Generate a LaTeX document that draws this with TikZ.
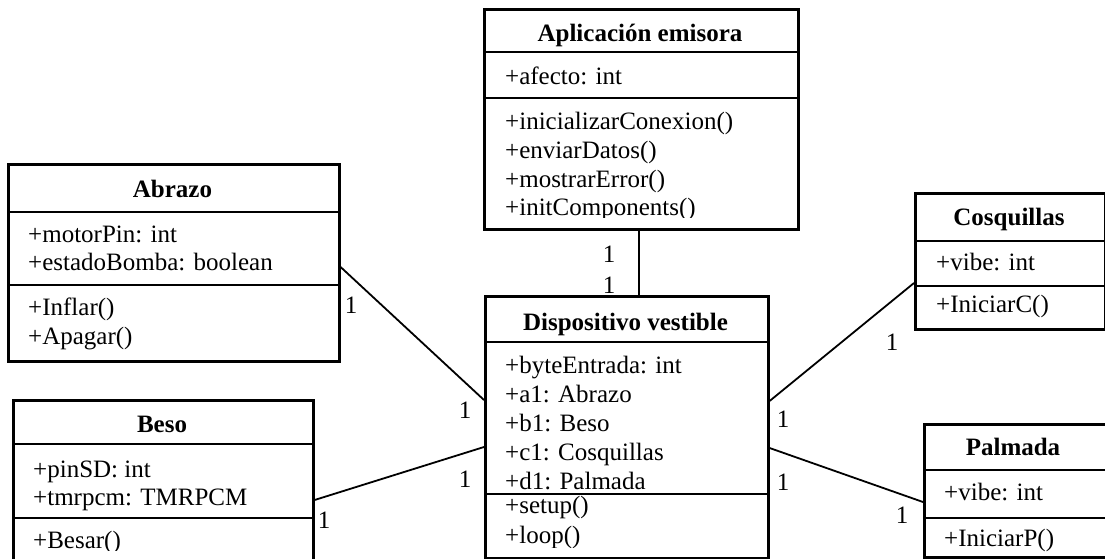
\documentclass[tikz,border=0pt]{standalone}
\usepackage{fontspec}
\setmainfont{Liberation Serif}
\usetikzlibrary{calc}
\tikzset{
  classbox/.style={draw=black, line width=2.6pt, fill=white, anchor=north west, inner sep=0pt},
  divider/.style={draw=black, line width=1.1pt},
  assoc/.style={draw=black, line width=1.8pt},
  ttl/.style={anchor=base, inner sep=0pt, font=\fontsize{25}{29}\selectfont\bfseries},
  mem/.style={anchor=base west, inner sep=0pt, font=\fontsize{25}{29}\selectfont},
  mult/.style={anchor=base, inner sep=0pt, font=\fontsize{25}{29}\selectfont},
}
\begin{document}
\begin{tikzpicture}[x=1pt,y=-1pt]
\useasboundingbox (0,0) rectangle (1105,559);
\clip (0,0) rectangle (1105,559);
\fill[white] (0,0) rectangle (1105,559);

% boxes as named nodes
\node[classbox, minimum width=314, minimum height=220] (app) at (483,8) {};
\node[classbox, minimum width=283, minimum height=262] (disp) at (484,295) {};
\node[classbox, minimum width=331, minimum height=197] (abr) at (7,163) {};
\node[classbox, minimum width=300, minimum height=180] (beso) at (12,399) {};
\node[classbox, minimum width=190, minimum height=136] (cosq) at (914,192) {};
\node[classbox, minimum width=200, minimum height=133] (palm) at (923,423) {};

% connectors
\draw[assoc] ($(app.south west)+(156,0)$) -- ($(disp.north west)+(155,0)$);
\draw[assoc] ($(abr.north east)+(0,104)$) -- ($(disp.north west)+(0,105)$);
\draw[assoc] ($(beso.north east)+(0,101)$) -- ($(disp.north west)+(0,152)$);
\draw[assoc] ($(disp.north east)+(0,106)$) -- ($(cosq.north west)+(0,91)$);
\draw[assoc] ($(disp.north east)+(0,153)$) -- ($(palm.north west)+(0,79)$);

% ---------- Aplicacion emisora ----------
\draw[divider] (app.west |- 0,52) -- (app.east |- 0,52);
\draw[divider] (app.west |- 0,98) -- (app.east |- 0,98);
\node[ttl] (appT) at (640,42) {Aplicación emisora};
\node[mem] (appA1) at (505,85) {+afecto: int};
\begin{scope}
\clip (485,99) rectangle (795,217);
\node[mem] (appM1) at (505,130) {+inicializarConexion()};
\node[mem] (appM2) at (505,158.5) {+enviarDatos()};
\node[mem] (appM3) at (505,187) {+mostrarError()};
\node[mem] (appM4) at (505,215.5) {+initComponents()};
\end{scope}

% ---------- Dispositivo vestible ----------
\draw[divider] (disp.west |- 0,342) -- (disp.east |- 0,342);
\draw[divider] (disp.west |- 0,494) -- (disp.east |- 0,494);
\node[ttl] (dispT) at (625.5,330) {Dispositivo vestible};
\node[mem] (dispA1) at (505,373) {+byteEntrada: int};
\node[mem] (dispA2) at (505,402) {+a1: Abrazo};
\node[mem] (dispA3) at (505,431) {+b1: Beso};
\node[mem] (dispA4) at (505,460) {+c1: Cosquillas};
\node[mem] (dispA5) at (505,489) {+d1: Palmada};
\begin{scope}
\clip (486,495) rectangle (765,547);
\node[mem] (dispM1) at (505,513) {+setup()};
\node[mem] (dispM2) at (505,543) {+loop()};
\end{scope}

% ---------- Abrazo ----------
\draw[divider] (abr.west |- 0,212) -- (abr.east |- 0,212);
\draw[divider] (abr.west |- 0,285) -- (abr.east |- 0,285);
\node[ttl] (abrT) at (172.5,197) {Abrazo};
\node[mem] (abrA1) at (28,242) {+motorPin: int};
\node[mem] (abrA2) at (28,270) {+estadoBomba: boolean};
\node[mem] (abrM1) at (28,315) {+Inflar()};
\node[mem] (abrM2) at (28,344) {+Apagar()};

% ---------- Beso ----------
\draw[divider] (beso.west |- 0,444) -- (beso.east |- 0,444);
\draw[divider] (beso.west |- 0,518) -- (beso.east |- 0,518);
\node[ttl] (besoT) at (162,432) {Beso};
\node[mem] (besoA1) at (33,477) {+pinSD: int};
\node[mem] (besoA2) at (33,505) {+tmrpcm: TMRPCM};
\begin{scope}
\clip (14,519) rectangle (310,550);
\node[mem] (besoM1) at (33,548) {+Besar()};
\end{scope}

% ---------- Cosquillas ----------
\draw[divider] (cosq.west |- 0,241) -- (cosq.east |- 0,241);
\draw[divider] (cosq.west |- 0,286) -- (cosq.east |- 0,286);
\node[ttl] (cosqT) at (1009,225) {Cosquillas};
\node[mem] (cosqA1) at (936,270) {+vibe: int};
\node[mem] (cosqM1) at (936,312) {+IniciarC()};

% ---------- Palmada ----------
\draw[divider] (palm.west |- 0,470) -- (palm.east |- 0,470);
\draw[divider] (palm.west |- 0,518) -- (palm.east |- 0,518);
\node[ttl] (palmT) at (1013,455) {Palmada};
\node[mem] (palmA1) at (944,500) {+vibe: int};
\node[mem] (palmM1) at (944,546) {+IniciarP()};

% ---------- multiplicities ----------
\node[mult] (m1) at (609,262) {1};
\node[mult] (m2) at (609,293) {1};
\node[mult] (m3) at (351,313) {1};
\node[mult] (m4) at (465,418) {1};
\node[mult] (m5) at (465,487) {1};
\node[mult] (m6) at (324,528) {1};
\node[mult] (m7) at (783,427) {1};
\node[mult] (m8) at (892,350) {1};
\node[mult] (m9) at (783,490) {1};
\node[mult] (m10) at (902,523) {1};
\end{tikzpicture}
\end{document}
